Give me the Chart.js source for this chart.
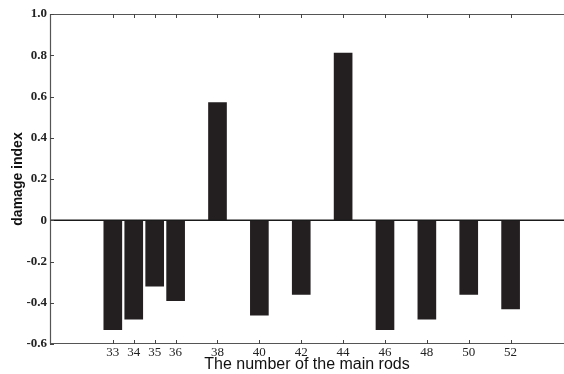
<!DOCTYPE html>
<html>
<head>
<meta charset="utf-8">
<script src="https://cdn.jsdelivr.net/npm/chart.js@4.4.1/dist/chart.umd.min.js"></script>
<style>
  html, body { margin: 0; padding: 0; background: #fff; }
  #wrap { width: 564px; height: 374px; position: relative; }
</style>
</head>
<body>
<div id="wrap"><canvas id="c" width="564" height="374"></canvas></div>
<script>
// Rod numbers (x positions) and damage index values
const rodNumbers = [33, 34, 35, 36, 38, 40, 42, 44, 46, 48, 50, 52];
const damageIndex = [-0.53, -0.48, -0.32, -0.39, 0.57, -0.46, -0.36, 0.81, -0.53, -0.48, -0.36, -0.43];
const yTickValues = [-0.6, -0.4, -0.2, 0, 0.2, 0.4, 0.6, 0.8, 1.0];
const xTickValues = rodNumbers.slice();

const points = rodNumbers.map((r, i) => ({ x: r, y: damageIndex[i] }));

const frame = {
  id: 'frame',
  afterDatasetsDraw(chart) {
    const { ctx, chartArea: a, scales } = chart;
    const xs = scales.x, ys = scales.y;
    ctx.save();
    // zero line
    const y0 = ys.getPixelForValue(0);
    ctx.strokeStyle = '#1a1a1a';
    ctx.lineWidth = 1.6;
    ctx.beginPath(); ctx.moveTo(a.left, y0); ctx.lineTo(a.right, y0); ctx.stroke();
    // axis frame lines
    ctx.strokeStyle = '#555';
    ctx.lineWidth = 1.2;
    ctx.beginPath();
    ctx.moveTo(a.left + 0.5, a.top); ctx.lineTo(a.left + 0.5, a.bottom);
    ctx.moveTo(a.left, a.bottom - 0.5); ctx.lineTo(a.right, a.bottom - 0.5);
    ctx.moveTo(a.left, a.top + 0.5); ctx.lineTo(a.right, a.top + 0.5);
    ctx.stroke();
    // inward tick marks
    ctx.strokeStyle = '#444';
    ctx.lineWidth = 1;
    ctx.beginPath();
    ys.ticks.forEach(t => {
      const p = Math.round(ys.getPixelForValue(t.value)) + 0.5;
      ctx.moveTo(a.left, p); ctx.lineTo(a.left + 4, p);
    });
    xs.ticks.forEach(t => {
      const p = Math.round(xs.getPixelForValue(t.value)) + 0.5;
      ctx.moveTo(p, a.bottom); ctx.lineTo(p, a.bottom - 4);
      ctx.moveTo(p, a.top); ctx.lineTo(p, a.top + 4);
    });
    ctx.stroke();
    ctx.restore();
  }
};

new Chart(document.getElementById('c'), {
  type: 'bar',
  data: {
    datasets: [{
      data: points,
      backgroundColor: '#231f20',
      borderWidth: 0,
      barThickness: 18
    }]
  },
  options: {
    responsive: false,
    animation: false,
    events: [],
    layout: { padding: { top: 14, right: 0, left: 0, bottom: 0 } },
    plugins: { legend: { display: false }, tooltip: { enabled: false } },
    scales: {
      x: {
        type: 'linear',
        offset: false,
        min: 30,
        max: 54.55,
        afterBuildTicks(scale) { scale.ticks = xTickValues.map(v => ({ value: v })); },
        afterFit(scale) { scale.height = 30; },
        grid: { display: false, drawTicks: false, offset: false },
        border: { display: false },
        ticks: {
          padding: 1,
          color: '#222',
          font: { family: 'Liberation Serif', size: 13 },
          maxRotation: 0,
          autoSkip: false,
          callback: v => String(v)
        },
        title: {
          display: true,
          text: 'The number of the main rods',
          color: '#111',
          padding: { top: -3, bottom: 0 },
          font: { family: 'Liberation Sans', size: 16 }
        }
      },
      y: {
        min: -0.6,
        max: 1.0,
        afterBuildTicks(scale) { scale.ticks = yTickValues.map(v => ({ value: v })); },
        afterFit(scale) { scale.width = 50; },
        grid: { display: false, drawTicks: false },
        border: { display: false },
        ticks: {
          padding: 3,
          color: '#222',
          font: { family: 'Liberation Serif', size: 13, weight: 'bold' },
          callback: v => (Math.abs(v) < 1e-9 ? '0' : v.toFixed(1))
        },
        title: {
          display: true,
          text: 'damage index',
          color: '#111',
          padding: { top: 10, bottom: 0 },
          font: { family: 'Liberation Sans', size: 14, weight: 'bold' }
        }
      }
    }
  },
  plugins: [frame]
});
</script>
</body>
</html>
